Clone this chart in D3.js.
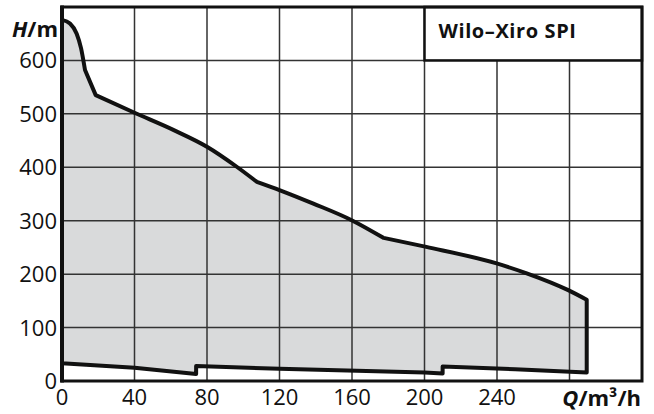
<!DOCTYPE html>
<html>
<head>
<meta charset="utf-8">
<script src="https://cdn.jsdelivr.net/npm/d3@7"></script>
<style>
  body { margin: 0; background: #fff; }
  svg { display: block; font-family: 'Open Sans', sans-serif; }
</style>
</head>
<body>
<div id="viz"></div>
<script>
// ticks
const qTicks = [0, 40, 80, 120, 160, 200, 240, 280, 320];
const qLabels = ['0', '40', '80', '120', '160', '200', '240'];
const hTicks = [0, 100, 200, 300, 400, 500, 600, 700];
const hLabels = ['0', '100', '200', '300', '400', '500', '600'];

// upper limit curve (max head), split into smooth pieces at the kinks
const upperQ = [
    [0, 4.4, 8.1, 10.5, 12.7],
    [12.7, 18.6],
    [18.6, 40, 61.4, 80.2, 96.4, 107.4],
    [107.4, 120.3, 138.7, 159.8, 177.3],
    [177.3, 201, 239.8, 256.4, 279.3, 289.5],
];
const upperH = [
    [676, 669, 650, 623, 582],
    [582, 535],
    [535, 502, 470, 438, 401, 373],
    [373, 357, 332, 301, 268],
    [268, 251, 220, 201.5, 170, 152],
];

// lower limit curve (min head), right to left
const lowerQ = [289.5, 250, 210, 210, 200, 120, 74, 74, 40, 0];
const lowerH = [16, 22, 27, 14, 16, 23, 28, 13, 25, 33];

const title = 'Wilo–Xiro SPI';

const W = 654, H = 414;
const margin = { top: 7, right: 12, bottom: 33, left: 62 };

const svg = d3.select('#viz')
    .append('svg')
    .attr('width', W)
    .attr('height', H);

const x = d3.scaleLinear().domain([0, 320]).range([margin.left, W - margin.right]);
const y = d3.scaleLinear().domain([0, 700]).range([H - margin.bottom, margin.top]);

const smooth = d3.line().x(d => x(d[0])).y(d => y(d[1])).curve(d3.curveMonotoneX);
const straight = d3.line().x(d => x(d[0])).y(d => y(d[1]));

let d = '';
upperQ.forEach((qs, k) => {
    const pts = qs.map((q, i) => [q, upperH[k][i]]);
    const s = smooth(pts);
    d += k === 0 ? s : 'L' + s.slice(1);
});
const lower = lowerQ.map((q, i) => [q, lowerH[i]]);
d += 'L' + straight(lower).slice(1) + 'Z';

svg.append('path')
    .attr('d', d)
    .attr('fill', '#d9dadb')
    .attr('stroke', 'none');

// grid
const grid = svg.append('g').attr('stroke', '#333').attr('stroke-width', 1.5);
grid.selectAll('line.v')
    .data(qTicks.slice(1, -1))
    .join('line')
    .attr('x1', t => x(t)).attr('x2', t => x(t))
    .attr('y1', y(0)).attr('y2', y(700));
grid.selectAll('line.h')
    .data(hTicks.slice(1, -1))
    .join('line')
    .attr('y1', t => y(t)).attr('y2', t => y(t))
    .attr('x1', x(0)).attr('x2', x(320));

// curve outline
svg.append('path')
    .attr('d', d)
    .attr('fill', 'none')
    .attr('stroke', '#111')
    .attr('stroke-width', 4)
    .attr('stroke-linejoin', 'round');

// title box
svg.append('rect')
    .attr('x', x(200)).attr('y', y(700))
    .attr('width', x(320) - x(200)).attr('height', y(600) - y(700))
    .attr('fill', '#fff')
    .attr('stroke', '#111')
    .attr('stroke-width', 2.5);
svg.append('text')
    .attr('x', x(200) + 14)
    .attr('y', 38)
    .attr('font-size', 20)
    .attr('letter-spacing', 0.6)
    .attr('font-weight', 'bold')
    .attr('fill', '#111')
    .text(title);

// frame
svg.append('rect')
    .attr('x', x(0)).attr('y', y(700))
    .attr('width', x(320) - x(0)).attr('height', y(0) - y(700))
    .attr('fill', 'none')
    .attr('stroke', '#111')
    .attr('stroke-width', 3);
svg.append('line')
    .attr('x1', x(0)).attr('x2', x(0))
    .attr('y1', y(700) - 1.5).attr('y2', y(0) + 1.5)
    .attr('stroke', '#111')
    .attr('stroke-width', 4);

// y labels
svg.append('g')
    .selectAll('text')
    .data(hLabels)
    .join('text')
    .attr('x', x(0) - 5)
    .attr('y', (t, i) => y(hTicks[i]) + 8)
    .attr('text-anchor', 'end')
    .attr('font-size', 22)
    .attr('fill', '#111')
    .text(t => t);

// x labels
svg.append('g')
    .selectAll('text')
    .data(qLabels)
    .join('text')
    .attr('x', (t, i) => x(qTicks[i]))
    .attr('y', 405)
    .attr('text-anchor', 'middle')
    .attr('font-size', 22)
    .attr('fill', '#111')
    .text(t => t);

// axis titles
const hTitle = svg.append('text')
    .attr('x', x(0) - 4)
    .attr('y', 37)
    .attr('text-anchor', 'end')
    .attr('font-size', 22)
    .attr('font-weight', 'bold')
    .attr('fill', '#111');
hTitle.append('tspan').attr('font-style', 'italic').text('H');
hTitle.append('tspan').text('/m');

const qTitle = svg.append('text')
    .attr('x', W - 13)
    .attr('y', 406)
    .attr('text-anchor', 'end')
    .attr('font-size', 22)
    .attr('font-weight', 'bold')
    .attr('fill', '#111');
qTitle.append('tspan').attr('font-style', 'italic').text('Q');
qTitle.append('tspan').text('/m³/h');
</script>
</body>
</html>
